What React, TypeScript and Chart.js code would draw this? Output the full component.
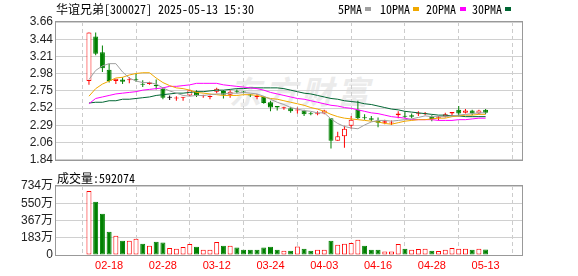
import React, { useEffect, useRef } from "react";
import { Chart, registerables } from "chart.js";

Chart.register(...registerables);

// ---------------- data ----------------
const dates = [
  "02-13", "02-14", "02-17", "02-18", "02-19", "02-20", "02-21", "02-24", "02-25", "02-26",
  "02-27", "02-28", "03-03", "03-04", "03-05", "03-06", "03-07", "03-10", "03-11", "03-12",
  "03-13", "03-14", "03-17", "03-18", "03-19", "03-20", "03-21", "03-24", "03-25", "03-26",
  "03-27", "03-28", "03-31", "04-01", "04-02", "04-03", "04-07", "04-08", "04-09", "04-10",
  "04-11", "04-14", "04-15", "04-16", "04-17", "04-18", "04-21", "04-22", "04-23", "04-24",
  "04-25", "04-28", "04-29", "04-30", "05-06", "05-07", "05-08", "05-09", "05-12", "05-13",
];

const opens = [
  2.88, 3.47, 3.26, 3.03, 2.88, 2.90, 2.89, 2.90, 2.84, 2.84,
  2.83, 2.78, 2.66, 2.65, 2.66, 2.69, 2.74, 2.68, 2.67, 2.74,
  2.75, 2.70, 2.75, 2.74, 2.70, 2.67, 2.67, 2.60, 2.55, 2.52,
  2.52, 2.49, 2.49, 2.45, 2.44, 2.45, 2.39, 2.09, 2.15, 2.29,
  2.50, 2.40, 2.39, 2.36, 2.33, 2.32, 2.43, 2.42, 2.43, 2.44,
  2.44, 2.41, 2.39, 2.41, 2.45, 2.50, 2.46, 2.49, 2.45, 2.50,
];
const closes = [
  3.52, 3.24, 3.05, 2.88, 2.91, 2.87, 2.90, 2.89, 2.83, 2.86,
  2.81, 2.66, 2.66, 2.66, 2.67, 2.76, 2.69, 2.69, 2.68, 2.78,
  2.70, 2.74, 2.74, 2.73, 2.69, 2.68, 2.59, 2.53, 2.53, 2.53,
  2.48, 2.50, 2.44, 2.44, 2.45, 2.49, 2.09, 2.15, 2.25, 2.37,
  2.39, 2.39, 2.37, 2.33, 2.35, 2.33, 2.45, 2.41, 2.41, 2.45,
  2.45, 2.38, 2.40, 2.44, 2.47, 2.45, 2.49, 2.45, 2.49, 2.46,
];
const highs = [
  3.52, 3.52, 3.35, 3.11, 2.91, 2.93, 2.93, 2.98, 2.89, 2.87,
  2.90, 2.80, 2.69, 2.68, 2.67, 2.77, 2.76, 2.70, 2.69, 2.79,
  2.76, 2.76, 2.77, 2.75, 2.71, 2.71, 2.68, 2.62, 2.55, 2.54,
  2.54, 2.53, 2.50, 2.47, 2.48, 2.50, 2.39, 2.21, 2.29, 2.42,
  2.62, 2.44, 2.42, 2.40, 2.37, 2.36, 2.48, 2.48, 2.45, 2.48,
  2.47, 2.43, 2.42, 2.46, 2.47, 2.55, 2.51, 2.50, 2.50, 2.51,
];
const lows = [
  2.83, 3.22, 3.00, 2.86, 2.84, 2.84, 2.85, 2.87, 2.80, 2.83,
  2.77, 2.64, 2.63, 2.62, 2.62, 2.68, 2.67, 2.66, 2.64, 2.72,
  2.65, 2.66, 2.72, 2.72, 2.67, 2.64, 2.58, 2.48, 2.49, 2.50,
  2.46, 2.45, 2.42, 2.43, 2.43, 2.44, 1.99, 2.09, 2.00, 2.25,
  2.38, 2.37, 2.35, 2.27, 2.31, 2.30, 2.39, 2.39, 2.39, 2.42,
  2.43, 2.35, 2.36, 2.40, 2.42, 2.42, 2.45, 2.43, 2.44, 2.44,
];

const ma5 = [
  2.90, 3.02, 3.08, 3.11, 3.11, 3.00, 2.92, 2.88, 2.86, 2.86,
  2.84, 2.79, 2.75, 2.72, 2.69, 2.68, 2.69, 2.69, 2.70, 2.71,
  2.71, 2.72, 2.72, 2.73, 2.72, 2.71, 2.68, 2.64, 2.60, 2.57,
  2.53, 2.51, 2.49, 2.48, 2.46, 2.46, 2.38, 2.32, 2.28, 2.26,
  2.25, 2.30, 2.34, 2.36, 2.36, 2.35, 2.36, 2.37, 2.38, 2.40,
  2.42, 2.41, 2.41, 2.41, 2.42, 2.43, 2.44, 2.45, 2.46, 2.46,
];
const ma10 = [
  2.68, 2.78, 2.84, 2.88, 2.92, 2.93, 2.96, 2.98, 2.99, 2.99,
  2.92, 2.86, 2.82, 2.79, 2.78, 2.76, 2.73, 2.72, 2.71, 2.70,
  2.69, 2.69, 2.69, 2.70, 2.70, 2.69, 2.67, 2.65, 2.64, 2.62,
  2.60, 2.58, 2.56, 2.53, 2.51, 2.48, 2.44, 2.41, 2.39, 2.38,
  2.37, 2.36, 2.35, 2.34, 2.32, 2.31, 2.33, 2.35, 2.36, 2.37,
  2.37, 2.38, 2.39, 2.39, 2.41, 2.42, 2.43, 2.43, 2.44, 2.44,
];
const ma20 = [
  2.58, 2.65, 2.67, 2.69, 2.71, 2.72, 2.73, 2.74, 2.76, 2.77,
  2.78, 2.79, 2.81, 2.81, 2.82, 2.83, 2.85, 2.85, 2.85, 2.85,
  2.83, 2.82, 2.81, 2.80, 2.79, 2.78, 2.76, 2.73, 2.71, 2.69,
  2.67, 2.65, 2.64, 2.62, 2.60, 2.58, 2.56, 2.55, 2.53, 2.52,
  2.50, 2.48, 2.46, 2.45, 2.43, 2.41, 2.40, 2.39, 2.37, 2.37,
  2.37, 2.37, 2.36, 2.36, 2.36, 2.37, 2.37, 2.38, 2.39, 2.39,
];
const ma30 = [
  2.59, 2.60, 2.60, 2.62, 2.62, 2.64, 2.64, 2.65, 2.66, 2.67,
  2.69, 2.70, 2.71, 2.72, 2.72, 2.73, 2.74, 2.74, 2.75, 2.76,
  2.76, 2.77, 2.78, 2.78, 2.79, 2.79, 2.79, 2.79, 2.79, 2.78,
  2.76, 2.74, 2.72, 2.71, 2.69, 2.67, 2.65, 2.64, 2.62, 2.61,
  2.60, 2.58, 2.57, 2.55, 2.53, 2.51, 2.50, 2.48, 2.47, 2.46,
  2.45, 2.44, 2.43, 2.43, 2.42, 2.42, 2.41, 2.41, 2.41, 2.41,
];

// volume in 手 (hands)
const volumes = [
  6810000, 5660000, 4400000, 2480000, 2050000, 1520000, 1510000, 1720000, 1200000, 980000,
  1400000, 1320000, 740000, 670000, 850000, 1170000, 880000, 560000, 560000, 1380000,
  980000, 980000, 800000, 560000, 560000, 560000, 800000, 880000, 560000, 460000,
  460000, 910000, 670000, 460000, 560000, 560000, 1510000, 1090000, 1200000, 1270000,
  1620000, 980000, 560000, 560000, 380000, 380000, 1170000, 670000, 560000, 640000,
  670000, 460000, 420000, 560000, 740000, 670000, 670000, 560000, 670000, 592074,
];
// 1 = closed above previous close (red), 0 = below (green)
const volumeUp = [
  1, 0, 0, 0, 1, 0, 1, 1, 0, 1,
  0, 0, 1, 1, 1, 1, 0, 1, 1, 1,
  0, 1, 0, 0, 0, 0, 0, 0, 0, 1,
  0, 1, 0, 0, 1, 1, 0, 1, 1, 1,
  1, 0, 0, 0, 1, 1, 1, 0, 1, 1,
  1, 0, 1, 1, 1, 1, 1, 0, 1, 0,
];

const xTickDates = ["02-18", "02-28", "03-12", "03-24", "04-03", "04-16", "04-28", "05-13"];
const priceTickLabels = ["1.84", "2.06", "2.29", "2.52", "2.75", "2.98", "3.21", "3.44", "3.66"];
const volumeTickLabels = ["0", "183万", "367万", "550万", "734万"];

const PRICE_MIN = 1.84;
const PRICE_MAX = 3.66;
const VOL_MAX = 7340000;
const X_MIN = -0.57;
const X_MAX = 60.08;

const titleText = "华谊兄弟[300027] 2025-05-13 15:30";
const volumeTitle = "成交量:592074";
const legendItems = [
  { label: "5PMA", color: "#a0a0a0" },
  { label: "10PMA", color: "#f0a800" },
  { label: "20PMA", color: "#ff00ff" },
  { label: "30PMA", color: "#006633" },
];
const maSeries = [ma5, ma10, ma20, ma30];

// ---------------- styles ----------------
const RED = "#ff0000";
const GREEN = "#008000";
const BLACK = "#000000";
const AXIS_FONT = "'Liberation Sans', Arial, 'Noto Sans CJK SC', sans-serif";
const HTML_FONT: React.CSSProperties = {
  fontFamily: "'Noto Sans CJK SC', sans-serif",
  fontSize: 12,
  lineHeight: "14px",
  fontFeatureSettings: '"hwid"',
  whiteSpace: "pre",
  color: "#000",
  position: "absolute",
};

const framePlugin = {
  id: "frame",
  afterDatasetsDraw(chart: any) {
    const { ctx, chartArea } = chart;
    const l = Math.round(chartArea.left);
    const t = Math.round(chartArea.top);
    const r = Math.round(chartArea.right);
    const b = Math.round(chartArea.bottom);
    ctx.save();
    ctx.strokeStyle = "#999999";
    ctx.lineWidth = 1;
    ctx.strokeRect(l - 0.5, t - 0.5, r - l + 1, b - t + 1);
    ctx.restore();
  },
};

const idx = dates.map((_, i) => i);
const candleColor = (i: number) =>
  closes[i] > opens[i] ? RED : closes[i] < opens[i] ? GREEN : BLACK;

function makeXScale(showLabels: boolean) {
  const tickIdx = xTickDates.map((d) => dates.indexOf(d));
  return {
    type: "linear",
    min: X_MIN,
    max: X_MAX,
    bounds: "data",
    afterBuildTicks: (s: any) => {
      s.ticks = tickIdx.map((v) => ({ value: v }));
    },
    afterFit: (s: any) => {
      s.height = showLabels ? 21 : 0;
    },
    grid: { color: "#cccccc", lineWidth: 1, drawTicks: false },
    border: { display: false, dash: [4, 3] },
    ticks: {
      display: showLabels,
      autoSkip: false,
      maxRotation: 0,
      minRotation: 0,
      padding: 4,
      color: RED,
      font: { family: AXIS_FONT, size: 11 },
      callback: (v: any) => dates[v] ?? "",
    },
  };
}

function makeYScale(min: number, max: number, labels: string[]) {
  const n = labels.length - 1;
  return {
    type: "linear",
    min,
    max,
    bounds: "data",
    afterBuildTicks: (s: any) => {
      s.ticks = labels.map((_, i) => ({ value: min + (i * (max - min)) / n }));
    },
    afterFit: (s: any) => {
      s.width = 56;
    },
    grid: { color: "#d0d0d0", lineWidth: 1, drawTicks: false },
    border: { display: false },
    ticks: {
      autoSkip: false,
      padding: 3,
      color: "#222222",
      font: { family: AXIS_FONT, size: 12 },
      callback: (_v: any, i: number) => labels[i],
    },
  };
}

export default function App() {
  const priceRef = useRef<HTMLCanvasElement>(null);
  const volRef = useRef<HTMLCanvasElement>(null);

  useEffect(() => {
    const priceChart = new Chart(priceRef.current as HTMLCanvasElement, {
      type: "bar",
      data: {
        datasets: [
          ...maSeries.map((s, k) => ({
            type: "line",
            data: idx.map((i) => ({ x: i, y: s[i] })),
            borderColor: legendItems[k].color,
            borderWidth: 1,
            pointRadius: 0,
            tension: 0,
            fill: false,
            order: 0,
          })),
          {
            type: "bar",
            data: idx.map((i) => ({ x: i, y: [opens[i], closes[i]] })),
            backgroundColor: idx.map((i) => (closes[i] > opens[i] ? "#ffffff" : candleColor(i))),
            borderColor: idx.map(candleColor),
            borderWidth: 1,
            borderSkipped: false,
            barThickness: 5,
            minBarLength: 1,
            inflateAmount: 0,
            grouped: false,
            order: 1,
          },
          {
            type: "bar",
            data: idx.map((i) => ({ x: i, y: [lows[i], highs[i]] })),
            backgroundColor: idx.map(candleColor),
            borderWidth: 0,
            barThickness: 1,
            inflateAmount: 0,
            grouped: false,
            order: 2,
          },
        ] as any,
      },
      options: {
        animation: false,
        responsive: false,
        devicePixelRatio: 1,
        layout: { padding: { top: 22, right: 56, bottom: 5, left: 0 } },
        plugins: { legend: { display: false }, tooltip: { enabled: false } },
        scales: {
          x: makeXScale(false) as any,
          y: makeYScale(PRICE_MIN, PRICE_MAX, priceTickLabels) as any,
        },
      },
      plugins: [framePlugin],
    });

    const volChart = new Chart(volRef.current as HTMLCanvasElement, {
      type: "bar",
      data: {
        datasets: [
          {
            data: idx.map((i) => ({ x: i, y: volumes[i] })),
            backgroundColor: idx.map((i) => (volumeUp[i] ? "#ffffff" : GREEN)),
            borderColor: idx.map((i) => (volumeUp[i] ? RED : GREEN)),
            borderWidth: 1,
            borderSkipped: false,
            barThickness: 5,
            inflateAmount: 0,
            grouped: false,
          },
        ] as any,
      },
      options: {
        animation: false,
        responsive: false,
        devicePixelRatio: 1,
        layout: { padding: { top: 14, right: 56, bottom: 0, left: 0 } },
        plugins: { legend: { display: false }, tooltip: { enabled: false } },
        scales: {
          x: makeXScale(true) as any,
          y: makeYScale(0, VOL_MAX, volumeTickLabels) as any,
        },
      },
      plugins: [framePlugin],
    });

    return () => {
      priceChart.destroy();
      volChart.destroy();
    };
  }, []);

  const legendPos = [
    { text: 338, box: 365 },
    { text: 380, box: 413 },
    { text: 426, box: 460 },
    { text: 472, box: 505 },
  ];

  return (
    <div
      style={{
        position: "absolute",
        left: 0,
        top: 0,
        width: 578,
        height: 276,
        background: "#ffffff",
        overflow: "hidden",
      }}
    >
      <div
        style={{
          position: "absolute",
          left: 229,
          top: 72,
          fontFamily: "'Noto Sans CJK SC', sans-serif",
          fontSize: 32,
          fontWeight: 700,
          fontStyle: "italic",
          letterSpacing: 4,
          color: "#ebebeb",
          whiteSpace: "pre",
          lineHeight: "36px",
        }}
      >
        东方财富
      </div>
      <canvas
        ref={priceRef}
        width={578}
        height={170}
        style={{ position: "absolute", left: 0, top: 0, width: 578, height: 170 }}
      />
      <canvas
        ref={volRef}
        width={578}
        height={104}
        style={{ position: "absolute", left: 0, top: 172, width: 578, height: 104 }}
      />
      <div style={{ ...HTML_FONT, left: 56, top: 2 }}>{titleText}</div>
      {legendItems.map((it, k) => (
        <React.Fragment key={it.label}>
          <div style={{ ...HTML_FONT, left: legendPos[k].text, top: 2 }}>{it.label}</div>
          <div
            style={{
              position: "absolute",
              left: legendPos[k].box,
              top: 7,
              width: 6,
              height: 4,
              background: it.color,
            }}
          />
        </React.Fragment>
      ))}
      <div style={{ ...HTML_FONT, left: 57, top: 171 }}>{volumeTitle}</div>
    </div>
  );
}
